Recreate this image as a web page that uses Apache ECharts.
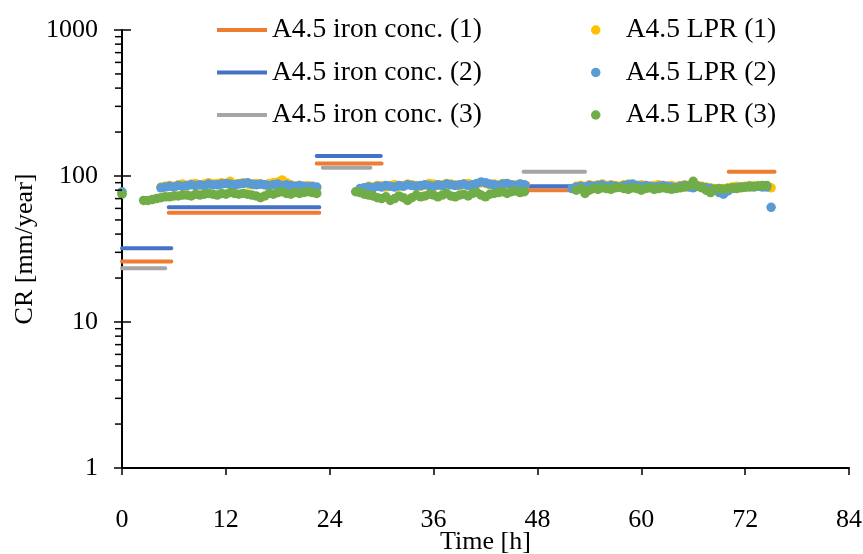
<!DOCTYPE html>
<html>
<head>
<meta charset="utf-8">
<script src="https://cdn.jsdelivr.net/npm/echarts@6/dist/echarts.min.js"></script>
<style>
  html, body { margin: 0; padding: 0; background: #fff; }
  #chart { width: 863px; height: 554px; }
</style>
</head>
<body>
<div id="chart"></div>
<script>
// Dissolved-iron derived corrosion rate: [start h, end h, CR mm/year]
const iron1 = [[0, 5.7, 26], [5.4, 22.8, 56], [22.5, 30, 122], [29.7, 46.9, 89], [46.9, 53.5, 80], [70.1, 75.4, 107]];
const iron2 = [[0, 5.7, 32], [5.4, 22.8, 61], [22.5, 29.9, 137], [46.9, 53.5, 85]];
const iron3 = [[0, 5.0, 23.3], [23.2, 28.7, 114], [28.5, 46.9, 87], [46.4, 53.5, 107]];

// LPR readings, one every half hour; each run = [start h, readings]
const lprStep = 0.5;
const lpr1Runs = [
  [0, [76]],
  [4.5, [84, 85, 86, 85, 87, 88, 86, 88, 89, 87,
         88, 90, 88, 89, 90, 89, 92, 88, 89, 90,
         88, 87, 89, 88, 87, 89, 90, 91, 94, 90,
         87, 85, 86, 85, 86, 84, 83]],
  [27.5, [81, 83, 85, 84, 86, 85, 84, 86, 87, 85,
          86, 88, 87, 86, 85, 87, 89, 88, 86, 87,
          89, 88, 87, 86, 88, 89, 87, 88, 90, 89,
          87, 88, 87, 89, 88, 86, 87, 88, 86]],
  [52.5, [85, 86, 85, 87, 86, 87, 88, 86, 87, 86,
          85, 87, 88, 87, 86, 87, 86, 85, 86, 87,
          86, 85, 86, 85, 86, 87, 85, 84, 86, 85,
          84, 83, 82, 81, 82, 83, 84, 85, 84, 85,
          86, 85, 86, 85, 85, 83]]
];
const lpr2Runs = [
  [0, [78]],
  [4.5, [83, 84, 85, 84, 86, 85, 86, 87, 86, 87,
         86, 88, 87, 87, 88, 89, 88, 87, 88, 89,
         90, 88, 87, 88, 87, 86, 87, 88, 86, 87,
         86, 85, 86, 85, 84, 85, 84]],
  [27.5, [82, 83, 84, 83, 85, 84, 86, 85, 84, 86,
          85, 87, 86, 85, 86, 87, 86, 85, 87, 86,
          88, 87, 86, 87, 88, 86, 87, 89, 91, 90,
          88, 87, 86, 88, 89, 87, 86, 88, 87]],
  [52, [82, 84, 85, 84, 86, 85, 86, 87, 85, 86,
        85, 84, 86, 87, 88, 86, 85, 86, 85, 84,
        85, 86, 85, 84, 83, 85, 86, 84, 83, 85,
        84, 83, 82, 80, 77, 75, 79, 82, 83, 84,
        84, 85, 84, 85, 84, 84, 61]]
];
const lpr3Runs = [
  [0, [75]],
  [2.5, [68, 68, 69, 70, 71, 72, 72, 73, 73, 74,
         74, 73, 75, 74, 75, 76, 75, 74, 76, 75,
         77, 76, 75, 76, 75, 74, 73, 71, 73, 76,
         75, 77, 78, 76, 75, 77, 76, 77, 78, 77,
         76]],
  [27, [78, 77, 75, 74, 73, 71, 70, 72, 68, 70,
        73, 71, 68, 71, 74, 72, 73, 75, 74, 72,
        74, 76, 73, 72, 74, 75, 73, 76, 77, 74,
        72, 75, 76, 77, 78, 76, 78, 79, 77, 78]],
  [52.5, [80, 82, 76, 80, 82, 81, 83, 82, 81, 83,
          84, 82, 81, 83, 82, 80, 82, 83, 81, 82,
          83, 82, 81, 82, 83, 84, 86, 92, 85, 83,
          80, 77, 81, 82, 81, 82, 83, 82, 83, 84,
          84, 85, 85, 86, 86]]
];

// Axis tick values
const xTicks = [0, 12, 24, 36, 48, 60, 72, 84];
const yMajorTicks = [1, 10, 100, 1000];
const yMinorTicks = [2, 3, 4, 5, 6, 7, 8, 9, 20, 30, 40, 50, 60, 70, 80, 90, 200, 300, 400, 500, 600, 700, 800, 900];

const lineNames = ['A4.5 iron conc. (1)', 'A4.5 iron conc. (2)', 'A4.5 iron conc. (3)'];
const dotNames = ['A4.5 LPR (1)', 'A4.5 LPR (2)', 'A4.5 LPR (3)'];
const lineColors = ['#ED7D31', '#4472C4', '#A5A5A5'];
const dotColors = ['#FFC000', '#5B9BD5', '#70AD47'];

const FONT = 'Liberation Serif';

function stepData(segs) {
  const out = [];
  segs.forEach(([a, b, v], k) => {
    if (k) out.push([a, '-']);
    out.push([a, v], [b, v]);
  });
  return out;
}
function runData(runs) {
  const out = [];
  runs.forEach(([start, vals]) => {
    vals.forEach((v, i) => out.push([start + i * lprStep, v]));
  });
  return out;
}

const tickData = yMajorTicks.map(v => [0, v, 1]).concat(yMinorTicks.map(v => [0, v, 0]));

const series = [];
[iron1, iron2, iron3].forEach((segs, i) => {
  series.push({
    name: lineNames[i], type: 'line', data: stepData(segs),
    showSymbol: false, symbol: 'none', connectNulls: false,
    lineStyle: { color: lineColors[i], width: 4, cap: 'round' },
    itemStyle: { color: lineColors[i] }, z: 2
  });
});
[lpr1Runs, lpr2Runs, lpr3Runs].forEach((runs, i) => {
  series.push({
    name: dotNames[i], type: 'scatter', data: runData(runs),
    symbol: 'circle', symbolSize: 9.5,
    itemStyle: { color: dotColors[i], opacity: 1 }, z: 3
  });
});
// y-axis tick marks (major ticks cross the axis, minor ticks outside)
series.push({
  type: 'custom', data: tickData, silent: true, clip: false, z: 5,
  encode: { x: 0, y: 1 },
  renderItem: function (params, api) {
    const p = api.coord([0, api.value(1)]);
    const major = api.value(2) === 1;
    return {
      type: 'line',
      shape: { x1: p[0] - (major ? 8 : 7), y1: p[1], x2: p[0] + (major ? 9 : 0), y2: p[1] },
      style: { stroke: '#000', lineWidth: 1.5 }
    };
  }
});

const legendText = { fontFamily: FONT, fontSize: 27.5, color: '#000' };

const chart = echarts.init(document.getElementById('chart'), null, { renderer: 'canvas' });
chart.setOption({
  animation: false,
  backgroundColor: '#fff',
  grid: { left: 122, right: 14, top: 30, bottom: 86, outerBoundsMode: 'none', containLabel: false },
  legend: [
    {
      data: lineNames, orient: 'vertical', left: 212, top: 11,
      icon: 'rect', itemWidth: 50, itemHeight: 4, itemGap: 14.5,
      textStyle: legendText
    },
    {
      data: dotNames, orient: 'vertical', left: 586, top: 11,
      icon: 'circle', itemWidth: 50, itemHeight: 9.5, itemGap: 14.5,
      textStyle: legendText
    }
  ],
  xAxis: {
    type: 'value', min: xTicks[0], max: xTicks[xTicks.length - 1], interval: 12,
    name: 'Time [h]', nameLocation: 'middle', nameGap: 61, nameMoveOverlap: false,
    nameTextStyle: { fontFamily: FONT, fontSize: 26, color: '#000' },
    axisLine: { lineStyle: { color: '#000', width: 2 } },
    axisTick: { show: true, length: 7, lineStyle: { color: '#000', width: 1.5 } },
    axisLabel: { fontFamily: FONT, fontSize: 26, color: '#000', margin: 39 },
    splitLine: { show: false }
  },
  yAxis: {
    type: 'log', logBase: 10, min: yMajorTicks[0], max: yMajorTicks[yMajorTicks.length - 1],
    name: 'CR [mm/year]', nameLocation: 'middle', nameGap: 84, nameRotate: 90, nameMoveOverlap: false,
    nameTextStyle: { fontFamily: FONT, fontSize: 26, color: '#000' },
    axisLine: { lineStyle: { color: '#000', width: 2 } },
    axisTick: { show: false },
    axisLabel: { fontFamily: FONT, fontSize: 26, color: '#000', margin: 24, formatter: v => String(v) },
    splitLine: { show: false }
  },
  series: series
});
</script>
</body>
</html>
